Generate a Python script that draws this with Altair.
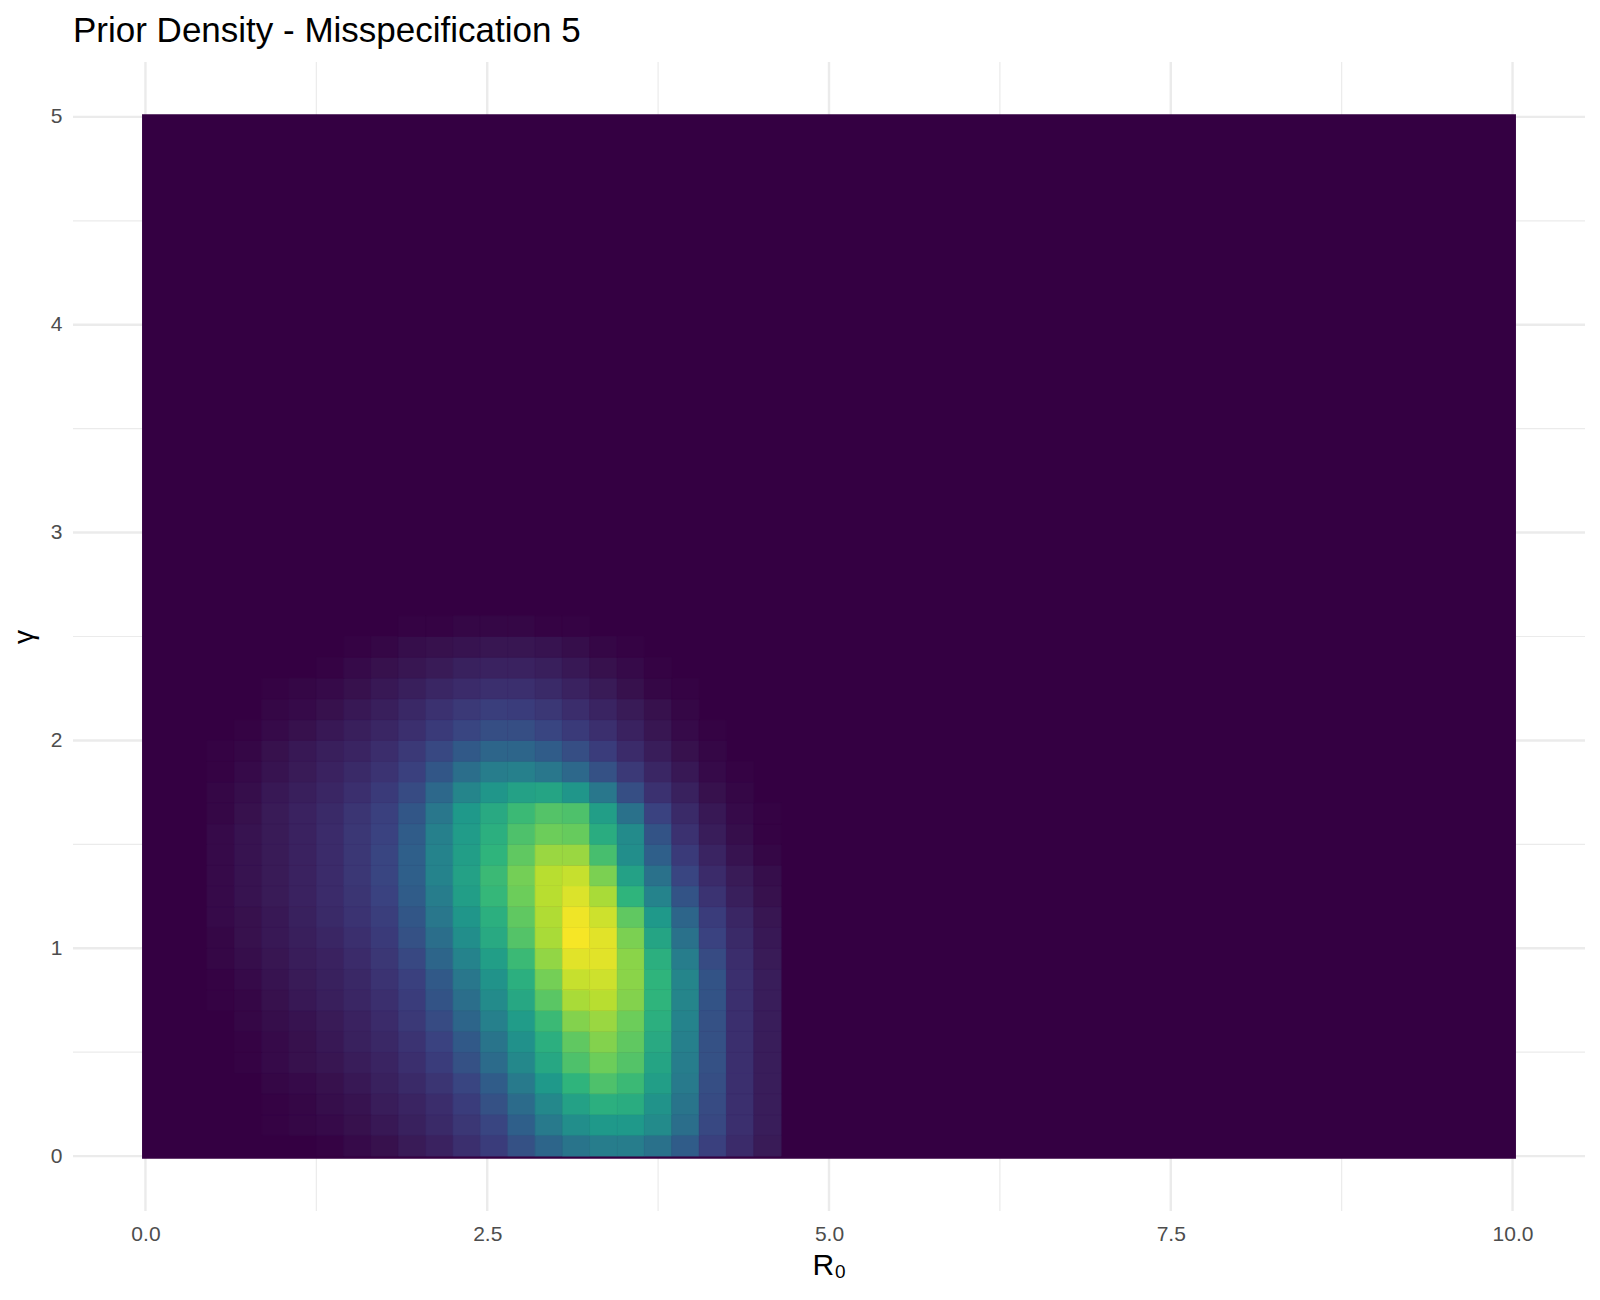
import altair as alt
import pandas as pd

FONT = "Liberation Sans"
TITLE = "Prior Density - Misspecification 5"
X_TITLE = "R₀"
Y_TITLE = "γ"

# centres of the density cells
r0_centers = [0.55, 0.75, 0.95, 1.15, 1.35, 1.55, 1.75, 1.95, 2.15, 2.35, 2.55,
              2.75, 2.95, 3.15, 3.35, 3.55, 3.75, 3.95, 4.15, 4.35, 4.55]
gamma_centers = [0.05, 0.15, 0.25, 0.35, 0.45, 0.55, 0.65, 0.75, 0.85, 0.95,
                 1.05, 1.15, 1.25, 1.35, 1.45, 1.55, 1.65, 1.75, 1.85, 1.95,
                 2.05, 2.15, 2.25, 2.35, 2.45, 2.55]

# relative prior density (0-100), one row per gamma centre, one column per R0 centre
density = [
    [0, 0, 0, 0, 1, 3, 5, 9, 13, 20, 27, 35, 42, 47, 50, 50, 46, 39, 29, 18, 9],
    [0, 0, 1, 2, 3, 5, 8, 12, 17, 24, 31, 40, 49, 56, 60, 60, 55, 45, 32, 20, 10],
    [0, 0, 1, 2, 4, 6, 10, 14, 19, 27, 35, 44, 54, 63, 68, 67, 58, 47, 33, 20, 10],
    [0, 0, 2, 3, 5, 8, 12, 17, 23, 31, 39, 49, 60, 70, 75, 72, 62, 49, 34, 20, 10],
    [0, 1, 3, 5, 7, 10, 14, 20, 27, 35, 44, 54, 65, 75, 80, 76, 64, 50, 35, 20, 10],
    [0, 1, 3, 5, 8, 12, 16, 22, 30, 38, 47, 57, 68, 78, 83, 78, 66, 51, 35, 20, 10],
    [0, 2, 4, 6, 9, 13, 18, 25, 33, 42, 51, 61, 72, 83, 86, 80, 68, 52, 35, 20, 10],
    [1, 2, 5, 8, 11, 15, 20, 27, 36, 45, 55, 65, 77, 88, 90, 83, 70, 53, 36, 20, 10],
    [1, 3, 6, 9, 12, 16, 22, 29, 38, 48, 58, 68, 81, 92, 93, 84, 70, 53, 36, 20, 10],
    [2, 4, 7, 10, 13, 18, 24, 32, 42, 52, 62, 72, 85, 96, 96, 84, 68, 50, 33, 19, 9],
    [2, 5, 8, 11, 15, 20, 26, 35, 45, 56, 66, 76, 88, 99, 96, 82, 64, 46, 30, 17, 8],
    [3, 5, 8, 12, 17, 22, 28, 37, 48, 59, 68, 78, 89, 98, 93, 78, 60, 42, 27, 15, 7],
    [3, 6, 9, 13, 18, 23, 30, 39, 50, 62, 71, 80, 90, 95, 88, 70, 52, 36, 22, 11, 5],
    [3, 6, 9, 13, 18, 24, 31, 40, 52, 63, 72, 81, 90, 92, 82, 63, 46, 31, 18, 9, 4],
    [3, 6, 9, 13, 18, 24, 31, 40, 52, 62, 70, 78, 86, 86, 74, 56, 40, 26, 14, 6, 2],
    [3, 6, 9, 13, 18, 24, 30, 39, 51, 61, 68, 75, 80, 79, 67, 55, 36, 21, 10, 4, 1],
    [2, 5, 9, 13, 17, 23, 29, 37, 48, 60, 66, 72, 76, 75, 62, 46, 30, 17, 8, 3, 1],
    [2, 4, 8, 11, 15, 20, 26, 33, 43, 53, 59, 63, 64, 59, 48, 34, 21, 12, 5, 2, 0],
    [1, 3, 6, 9, 13, 17, 22, 29, 37, 45, 50, 51, 48, 43, 35, 25, 15, 8, 3, 1, 0],
    [1, 2, 5, 8, 11, 14, 19, 25, 32, 38, 42, 42, 39, 34, 27, 18, 10, 5, 2, 0, 0],
    [0, 1, 3, 5, 8, 11, 15, 20, 26, 31, 34, 34, 31, 26, 20, 13, 7, 3, 1, 0, 0],
    [0, 0, 2, 3, 5, 8, 11, 16, 21, 25, 28, 27, 24, 19, 14, 9, 5, 2, 0, 0, 0],
    [0, 0, 1, 2, 3, 5, 8, 11, 15, 18, 20, 20, 17, 13, 9, 5, 2, 1, 0, 0, 0],
    [0, 0, 0, 0, 1, 3, 5, 7, 9, 12, 13, 13, 11, 8, 5, 3, 1, 0, 0, 0, 0],
    [0, 0, 0, 0, 0, 1, 2, 4, 5, 6, 7, 7, 6, 4, 2, 1, 0, 0, 0, 0, 0],
    [0, 0, 0, 0, 0, 0, 0, 1, 1, 2, 2, 2, 1, 1, 0, 0, 0, 0, 0, 0, 0],
]

# full extent of the raster (everything outside the blob has ~zero density)
raster_r0 = [-0.025, 10.025]
raster_gamma = [-0.0125, 5.0125]

x_ticks = [0, 2.5, 5, 7.5, 10]
x_minor = [1.25, 3.75, 6.25, 8.75]
y_ticks = [0, 1, 2, 3, 4, 5]
y_minor = [0.5, 1.5, 2.5, 3.5, 4.5]

color_stops = [0, 5, 10, 20, 30, 40, 50, 60, 70, 80, 90, 100]
color_range = ["#340042", "#37114d", "#391d5a", "#3b2f6e", "#3a4280", "#2f5f8a",
               "#277d8c", "#1f998a", "#2fb47c", "#6ccd5a", "#b8de30", "#fde725"]

# ---- build tables ----
dr = r0_centers[1] - r0_centers[0]
dg = gamma_centers[1] - gamma_centers[0]
rows = []
for i, g in enumerate(gamma_centers):
    for j, r in enumerate(r0_centers):
        v = density[i][j]
        if v > 0:
            rows.append({"x1": r - dr / 2, "x2": r + dr / 2,
                         "y1": g - dg / 2, "y2": g + dg / 2, "v": v})
cells_df = pd.DataFrame(rows)
bg_df = pd.DataFrame({"x1": [raster_r0[0]], "x2": [raster_r0[1]],
                      "y1": [raster_gamma[0]], "y2": [raster_gamma[1]], "v": [0]})

xs = alt.Scale(domain=[-0.53, 10.53], nice=False, zero=False)
ys = alt.Scale(domain=[-0.264, 5.264], nice=False, zero=False)
cs = alt.Scale(domain=color_stops, range=color_range, interpolate="rgb")

W, H = 1512, 1149

x_axis = alt.Axis(values=x_ticks, format=".1f", grid=False, domain=False, ticks=False,
                  tickSize=0, labelFont=FONT, labelFontSize=21, labelColor="#4D4D4D",
                  labelPadding=12, labelFlush=False, labelOverlap=False,
                  title=X_TITLE, titleFont=FONT, titleFontSize=30, titleFontWeight="normal",
                  titleColor="black", titleX=W / 2, titleY=63, titleAlign="center",
                  titleBaseline="alphabetic")
y_axis = alt.Axis(values=y_ticks, format="d", grid=False, domain=False, ticks=False,
                  tickSize=0, labelFont=FONT, labelFontSize=21, labelColor="#4D4D4D",
                  labelPadding=11, labelFlush=False, labelOverlap=False,
                  title=Y_TITLE, titleFont=FONT, titleFontSize=28, titleFontWeight="normal",
                  titleColor="black", titleX=-41, titleY=H / 2, titleAngle=270,
                  titleAlign="center", titleBaseline="alphabetic")

grid_x_minor = alt.Chart(pd.DataFrame({"x1": x_minor})).mark_rule(
    color="#EBEBEB", strokeWidth=1.2).encode(x=alt.X("x1:Q", scale=xs, axis=x_axis))
grid_x_major = alt.Chart(pd.DataFrame({"x1": x_ticks})).mark_rule(
    color="#EBEBEB", strokeWidth=2.4).encode(x=alt.X("x1:Q", scale=xs, axis=x_axis))
grid_y_minor = alt.Chart(pd.DataFrame({"y1": y_minor})).mark_rule(
    color="#EBEBEB", strokeWidth=1.2).encode(y=alt.Y("y1:Q", scale=ys, axis=y_axis))
grid_y_major = alt.Chart(pd.DataFrame({"y1": y_ticks})).mark_rule(
    color="#EBEBEB", strokeWidth=2.4).encode(y=alt.Y("y1:Q", scale=ys, axis=y_axis))

bg = alt.Chart(bg_df).mark_rect().encode(
    x=alt.X("x1:Q", scale=xs, axis=x_axis), x2="x2:Q",
    y=alt.Y("y1:Q", scale=ys, axis=y_axis), y2="y2:Q",
    color=alt.Color("v:Q", scale=cs, legend=None),
)

cells = alt.Chart(cells_df).mark_rect(strokeWidth=0.6).encode(
    x=alt.X("x1:Q", scale=xs, axis=x_axis), x2="x2:Q",
    y=alt.Y("y1:Q", scale=ys, axis=y_axis), y2="y2:Q",
    color=alt.Color("v:Q", scale=cs, legend=None),
    stroke=alt.Stroke("v:Q", scale=cs, legend=None),
)

chart = alt.layer(grid_x_minor, grid_x_major, grid_y_minor, grid_y_major, bg, cells).properties(
    width=W, height=H,
    title=alt.Title(TITLE, anchor="start", frame="group", font=FONT, fontSize=35,
                    fontWeight="normal", color="black", offset=12),
    autosize=alt.AutoSizeParams(type="none"),
    padding={"left": 65, "top": 54, "right": 2, "bottom": 70},
    background="white",
).configure_view(stroke=None)

chart.save("out.html", embed_options={"renderer": "svg", "actions": False})
